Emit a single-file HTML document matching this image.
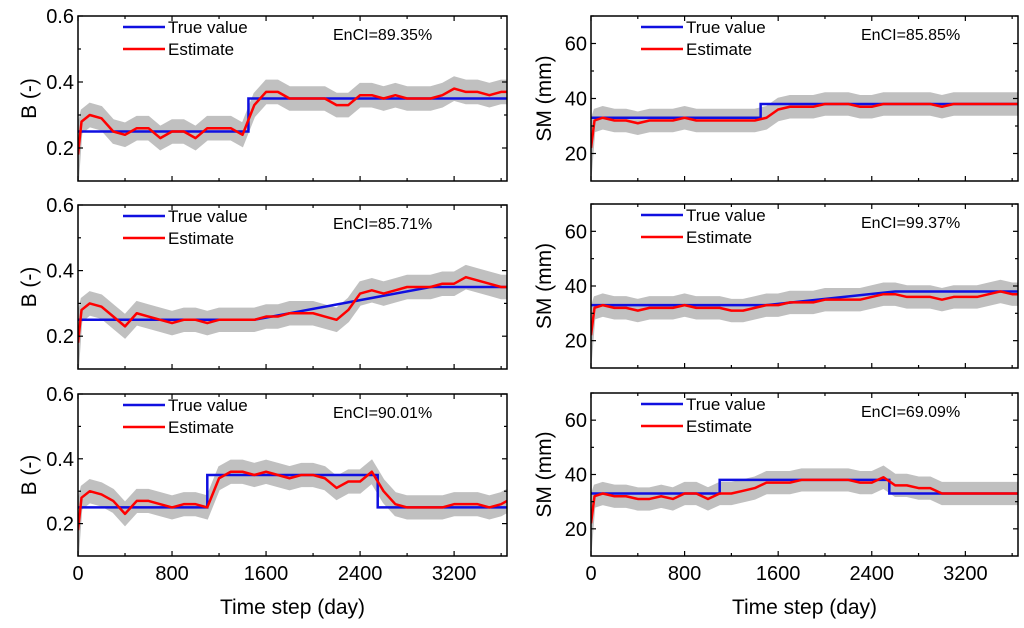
<!DOCTYPE html>
<html><head><meta charset="utf-8">
<style>
html,body{margin:0;padding:0;background:#fff;}
svg{display:block;font-family:"Liberation Sans",Arial,sans-serif;}
</style></head>
<body>
<svg id="chart" width="1024" height="628" viewBox="0 0 1024 628"></svg>
<script>
const days=[0,30,100,200,300,400,500,600,700,800,900,1000,1100,1200,1300,1400,1500,1600,1700,1800,1900,2000,2100,2200,2300,2400,2500,2600,2700,2800,2900,3000,3100,3200,3300,3400,3500,3600,3650];
const xTicks=[0,800,1600,2400,3200];
const bTicks=[0.2,0.4,0.6];
const smTicks=[20,40,60];
const trueTL=[[0,0.25],[1450,0.25],[1450,0.35],[3650,0.35]];
const trueML=[[0,0.25],[1500,0.25],[3000,0.35],[3650,0.35]];
const trueBL=[[0,0.25],[1100,0.25],[1100,0.35],[2550,0.35],[2550,0.25],[3650,0.25]];
const trueTR=[[0,33],[1450,33],[1450,38],[3650,38]];
const trueMR=[[0,33],[1500,33],[2600,38],[3650,38]];
const trueBR=[[0,33],[1100,33],[1100,38],[2550,38],[2550,33],[3650,33]];
const estTL=[0.18,0.28,0.30,0.29,0.25,0.24,0.26,0.26,0.23,0.25,0.25,0.23,0.26,0.26,0.26,0.24,0.33,0.37,0.37,0.35,0.35,0.35,0.35,0.33,0.33,0.36,0.36,0.35,0.36,0.35,0.35,0.35,0.36,0.38,0.37,0.37,0.36,0.37,0.37];
const estML=[0.18,0.28,0.30,0.29,0.26,0.23,0.27,0.26,0.25,0.24,0.25,0.25,0.24,0.25,0.25,0.25,0.25,0.26,0.26,0.27,0.27,0.27,0.26,0.25,0.28,0.33,0.34,0.33,0.34,0.35,0.35,0.35,0.36,0.36,0.38,0.37,0.36,0.35,0.35];
const estBL=[0.18,0.28,0.30,0.29,0.27,0.23,0.27,0.27,0.26,0.25,0.26,0.26,0.25,0.34,0.36,0.36,0.35,0.36,0.35,0.34,0.35,0.35,0.34,0.31,0.33,0.33,0.36,0.30,0.26,0.25,0.25,0.25,0.25,0.26,0.26,0.26,0.25,0.26,0.27];
const estTR=[22,32,33,32,32,31,32,32,32,33,32,32,32,32,32,32,33,36,37,37,37,38,38,38,37,37,38,38,38,38,38,37,38,38,38,38,38,38,38];
const estMR=[22,32,33,32,32,31,32,32,32,33,32,32,32,31,31,32,33,33,34,34,34,35,35,35,35,36,37,37,36,36,36,35,36,36,36,37,38,37,37];
const estBR=[22,32,33,32,32,31,31,32,31,33,33,31,33,33,34,35,37,37,37,38,38,38,38,38,37,37,39,36,36,35,35,33,33,33,33,33,33,33,33];
const bandB=0.035, bandSM=4;
const enclLabels=["EnCI=89.35%","EnCI=85.71%","EnCI=90.01%","EnCI=85.85%","EnCI=99.37%","EnCI=69.09%"];

const NS="http://www.w3.org/2000/svg";
const svg=document.getElementById('chart');
function mk(tag,attrs,parent){const e=document.createElementNS(NS,tag);for(const k in attrs)e.setAttribute(k,attrs[k]);(parent||svg).appendChild(e);return e;}

const panels=[
 {x0:78,x1:507,y0:16,y1:181,ymin:0.1,ymax:0.6,ticks:bTicks,fmt:v=>v.toFixed(1),tru:trueTL,est:estTL,band:bandB,label:"B (-)",id:"b-top",xl:false,encl:0},
 {x0:78,x1:507,y0:205,y1:369,ymin:0.1,ymax:0.6,ticks:bTicks,fmt:v=>v.toFixed(1),tru:trueML,est:estML,band:bandB,label:"B (-)",id:"b-middle",xl:false,encl:1},
 {x0:78,x1:507,y0:394,y1:556,ymin:0.1,ymax:0.6,ticks:bTicks,fmt:v=>v.toFixed(1),tru:trueBL,est:estBL,band:bandB,label:"B (-)",id:"b-bottom",xl:true,encl:2},
 {x0:591,x1:1018,y0:16,y1:181,ymin:10,ymax:70,ticks:smTicks,fmt:v=>String(v),tru:trueTR,est:estTR,band:bandSM,label:"SM (mm)",id:"sm-top",xl:false,encl:3},
 {x0:591,x1:1018,y0:204,y1:368,ymin:10,ymax:70,ticks:smTicks,fmt:v=>String(v),tru:trueMR,est:estMR,band:bandSM,label:"SM (mm)",id:"sm-middle",xl:false,encl:4},
 {x0:591,x1:1018,y0:393,y1:556,ymin:10,ymax:70,ticks:smTicks,fmt:v=>String(v),tru:trueBR,est:estBR,band:bandSM,label:"SM (mm)",id:"sm-bottom",xl:true,encl:5}
];
const XMAX=3650;
panels.forEach(p=>{
 const g=mk('g',{});
 
 
 const X=v=>p.x0+(v/XMAX)*(p.x1-p.x0);
 const Y=v=>p.y1-(v-p.ymin)/(p.ymax-p.ymin)*(p.y1-p.y0);
 const cp=mk('clipPath',{id:'clip-'+p.id},g);
 mk('rect',{x:p.x0,y:p.y0,width:p.x1-p.x0,height:p.y1-p.y0},cp);
 const inner=mk('g',{'clip-path':'url(#clip-'+p.id+')'},g);
 let up=days.map((d,i)=>X(d)+','+Y(p.est[i]+p.band*(i==0?2.5:1))).join(' ');
 let lo=days.map((d,i)=>X(d)+','+Y(p.est[i]-p.band*(i==0?2.5:1))).reverse().join(' ');
 const band=mk('polygon',{points:up+' '+lo,fill:'#c0c0c0',stroke:'#c0c0c0','stroke-width':1.5},inner);
 
 
 const tl=mk('polyline',{points:p.tru.map(q=>X(q[0])+','+Y(q[1])).join(' '),fill:'none',stroke:'#1010e0','stroke-width':2.5},inner);
 
 
 const el=mk('polyline',{points:days.map((d,i)=>X(d)+','+Y(p.est[i])).join(' '),fill:'none',stroke:'#ff0000','stroke-width':2.5,'stroke-linejoin':'round'},inner);
 
 
 const fr=mk('rect',{x:p.x0,y:p.y0,width:p.x1-p.x0,height:p.y1-p.y0,fill:'none',stroke:'#000','stroke-width':1.5},g);
 
 
 for(let v=0;v<=XMAX;v+=400){
  const major=v%800==0, len=major?5:3;
  mk('line',{x1:X(v),x2:X(v),y1:p.y1,y2:p.y1-len,stroke:'#000','stroke-width':1.2},g);
  mk('line',{x1:X(v),x2:X(v),y1:p.y0,y2:p.y0+len,stroke:'#000','stroke-width':1.2},g);
 }
 if(p.xl){xTicks.forEach(v=>{const t=mk('text',{x:X(v),y:p.y1+24,'text-anchor':'middle','font-size':20},g);t.textContent=v;});
  const xt=mk('text',{x:(p.x0+p.x1)/2,y:p.y1+58,'text-anchor':'middle','font-size':21},g);xt.textContent='Time step (day)';
  }
 const step=(p.ticks[1]-p.ticks[0])/2;
 for(let v=p.ymin+ (p.ymin==0.1?0.1:10);v<=p.ymax+1e-9;v+=step){
  const major=p.ticks.some(t=>Math.abs(t-v)<1e-6), len=major?5:3;
  mk('line',{x1:p.x0,x2:p.x0+len,y1:Y(v),y2:Y(v),stroke:'#000','stroke-width':1.2},g);
  mk('line',{x1:p.x1,x2:p.x1-len,y1:Y(v),y2:Y(v),stroke:'#000','stroke-width':1.2},g);
 }
 p.ticks.forEach(v=>{const t=mk('text',{x:p.x0-4,y:Y(v)+7,'text-anchor':'end','font-size':20},g);t.textContent=p.fmt(v);
  });
 const yt=mk('text',{x:0,y:0,'text-anchor':'middle','font-size':21,transform:`translate(${p.x0-(p.ymin==0.1?42:40)},${(p.y0+p.y1)/2}) rotate(-90)`},g);
 yt.textContent=p.label;
 
 const lg=mk('g',{},g);
 
 const lx=p.x0+(p.x0==78?45:50), ly=p.y0+11;
 mk('line',{x1:lx,x2:lx+42,y1:ly,y2:ly,stroke:'#1010e0','stroke-width':2.5},lg);
 const t1=mk('text',{x:lx+45,y:ly+6,'font-size':17},lg);t1.textContent='True value';
 
 mk('line',{x1:lx,x2:lx+42,y1:ly+22,y2:ly+22,stroke:'#ff0000','stroke-width':2.5},lg);
 const t2=mk('text',{x:lx+45,y:ly+28,'font-size':17},lg);t2.textContent='Estimate';
 
 const en=mk('text',{x:p.x0+(p.x0==78?255:270),y:p.y0+24,'font-size':16},g);en.textContent=enclLabels[p.encl];
 
});
</script>
</body></html>
